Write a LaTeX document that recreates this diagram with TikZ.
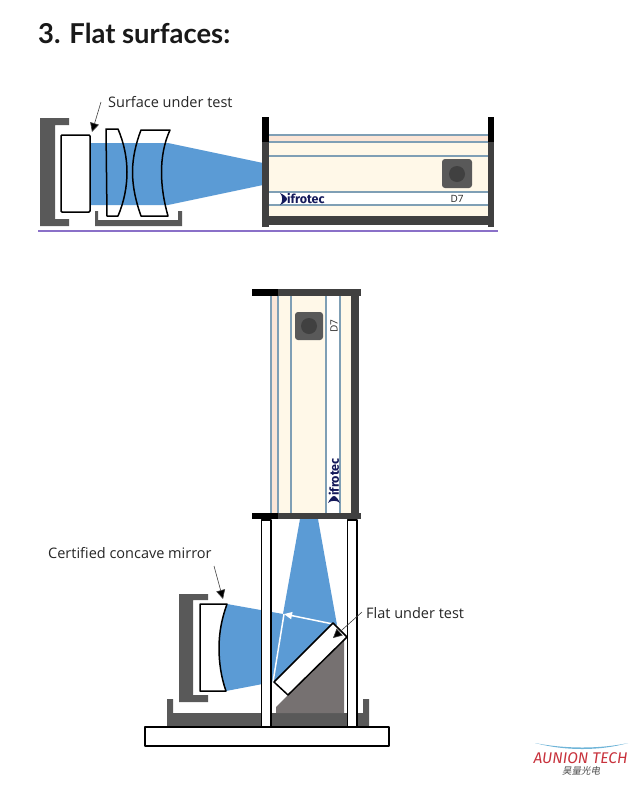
\documentclass[tikz,border=0pt]{standalone}
\usepackage{fontspec}
\setmainfont{Open Sans}
\newfontfamily\titlefont{Lato}
\newfontfamily\cjkfont[FakeSlant=0.2]{Noto Sans CJK SC}
\newfontfamily\logofont{Fira Sans}
\usetikzlibrary{arrows.meta}
\definecolor{frame}{HTML}{404040}
\definecolor{holder}{HTML}{595959}
\definecolor{beam}{HTML}{5B9BD5}
\definecolor{cream}{HTML}{FFF8E8}
\definecolor{peach}{HTML}{FBE5D6}
\definecolor{rule}{HTML}{7F9FB5}
\definecolor{wedge}{HTML}{767171}
\definecolor{navy}{HTML}{14195A}
\definecolor{purple1}{HTML}{8A70C8}
\definecolor{camcirc}{HTML}{404040}
\definecolor{logored}{HTML}{C8323C}
\definecolor{logoblue}{HTML}{6FB5D8}
\tikzset{
  x=1pt,y=-1pt,
  optic/.style={draw=black,line width=1.5pt,fill=white,line join=round},
  lensline/.style={draw=black,line width=1.5pt,line join=round},
  holderfill/.style={fill=holder,draw=none},
  framefill/.style={fill=frame,draw=none},
  ruleline/.style={draw=rule,line width=1.1pt},
  label/.style={font=\fontsize{14.5}{16}\selectfont,inner sep=0pt,text=black!85},
  callout/.style={draw=black!75,line width=0.6pt,-{Triangle[length=9pt,width=9pt,fill=black]}},
  raywhite/.style={draw=white,line width=1.5pt},
  brand/.style={font=\logofont\bfseries\fontsize{12.5}{13}\selectfont,text=navy,inner sep=0pt},
  small/.style={font=\fontsize{10}{10}\selectfont,inner sep=0pt,text=black!85}
}
\begin{document}
\begin{tikzpicture}
\useasboundingbox (0,0) rectangle (641,785);
\fill[white] (0,0) rectangle (641,785);
\node[anchor=west,inner sep=0pt,font=\titlefont\bfseries\fontsize{27.4}{28}\selectfont,text=black!90] (title) at (38,33) {3. Flat surfaces:};

% ---- top set-up: optics
\fill[holderfill] (40,118) -- (69,118) -- (69,125) -- (55,125) -- (55,219) -- (69,219) -- (69,226) -- (40,226) -- cycle;
\fill[holderfill] (95,211) -- (98,211) -- (98,220) -- (178,220) -- (178,211) -- (182,211) -- (182,226) -- (95,226) -- cycle;
\fill[beam] (90,143) -- (168,143) -- (263,163) -- (263,185) -- (168,205) -- (90,205) -- cycle;
\draw[optic,rounded corners=1pt] (61,135) rectangle (90,212);
\draw[lensline] (106,129) -- (118,129) .. controls (124,143) and (127,158) .. (127,172) .. controls (127,187) and (124,202) .. (118,216) -- (107,216) -- cycle;
\draw[lensline] (141,130) -- (170,130) .. controls (164,143) and (161.5,158) .. (161.5,172) .. controls (161.5,187) and (164,202) .. (168,216) -- (141,216) .. controls (136,202) and (132.5,187) .. (132.5,172) .. controls (132.5,158) and (136,143) .. (141,130) -- cycle;
\coordinate (surfTail) at (101,102);
\coordinate (surfTip) at (92,132);
\draw[callout] (surfTail) -- (surfTip);
\node[label,anchor=west] (surf) at (108,102) {Surface under test};

% ---- top set-up: interferometer
\fill[cream] (269,135) rectangle (488,216);
\fill[peach] (269,135) rectangle (488,142);
\fill[white] (269,192) rectangle (488,205);
\foreach \yy in {135,142,156,192,205} \draw[ruleline] (269,\yy) -- (488,\yy);
\fill[framefill] (262,216) rectangle (494,225);
\fill[framefill] (262,142) rectangle (269,227);
\fill[framefill] (488,142) rectangle (494,227);
\fill[black] (262,117) rectangle (269,142);
\fill[black] (488,117) rectangle (494,142);
\fill[holder,rounded corners=3pt] (442,159) rectangle (472,188);
\fill[camcirc] (457,174) circle (8);
\node[small] (d7a) at (457,199) {D7};
\fill[navy] (280,193) .. controls (284,195) and (287,197) .. (287,199) .. controls (287,201) and (284,203) .. (280,205) .. controls (283,202) and (283,196) .. (280,193) -- cycle;
\node[brand,anchor=west] (brandA) at (287,199) {ifrotec};

\draw[draw=purple1,line width=2pt] (38,230.5) -- (498,230.5);

% ---- lower set-up: interferometer
\fill[cream] (271,296) rectangle (351,513);
\fill[peach] (271,296) rectangle (278,513);
\fill[white] (326,296) rectangle (340,513);
\foreach \xx in {271,278,291,326,340} \draw[ruleline] (\xx,296) -- (\xx,513);
\fill[framefill] (351,289) rectangle (359,519);
\fill[framefill] (252,289) rectangle (361,296);
\fill[framefill] (252,513) rectangle (361,519);
\fill[black] (252,289) rectangle (278,296);
\fill[black] (252,513) rectangle (278,519);
\fill[holder,rounded corners=3pt] (295,312) rectangle (323,340);
\fill[camcirc] (309,326) circle (8);
\node[small,rotate=90] (d7b) at (334,326) {D7};
\fill[navy] (328,503) .. controls (330,499) and (332,496) .. (334,496) .. controls (336,496) and (338,499) .. (340,503) .. controls (337,500) and (331,500) .. (328,503) -- cycle;
\node[brand,rotate=90,anchor=west] (brandB) at (334,496) {ifrotec};

% ---- lower set-up: mounts and beam
\fill[holderfill] (167,699) -- (173,699) -- (173,713) -- (363,713) -- (363,699) -- (369,699) -- (369,727) -- (167,727) -- cycle;
\fill[holderfill] (179,594) -- (208,594) -- (208,600) -- (193,600) -- (193,695) -- (208,695) -- (208,702) -- (179,702) -- cycle;
\fill[wedge] (344,640) -- (344,713) -- (276,713) -- (276,707) -- (288,695) -- cycle;
\fill[beam] (300,519) -- (318,519) -- (337,625) -- (333,623) -- (274,682) -- (273,682) -- (226,691) .. controls (221,677) and (219,662) .. (219,648) .. controls (219,632) and (222,618) .. (227,604) -- (283,614) -- cycle;
\coordinate (rayLow) at (273,682);
\coordinate (rayMid) at (284,614);
\coordinate (rayHigh) at (333,624);
\draw[raywhite] (rayLow) -- (rayMid);
\draw[raywhite,-{Triangle[length=8pt,width=7pt,fill=white]}] (rayHigh) -- (rayMid);
\draw[optic] (200,604) -- (227,604) .. controls (222,618) and (219,632) .. (219,648) .. controls (219,662) and (221,677) .. (226,691) -- (200,691) -- cycle;
\draw[optic] (333,623) -- (347,637) -- (288,695) -- (274,682) -- cycle;
\draw[optic] (261.5,520) rectangle (271,727);
\draw[optic] (347.5,520) rectangle (357,727);
\draw[optic] (145,727) rectangle (389,746);
\coordinate (mirTail) at (214,566);
\coordinate (mirTip) at (223,599);
\draw[callout] (mirTail) -- (mirTip);
\coordinate (flatTail) at (362,612);
\coordinate (flatTip) at (333,638);
\draw[callout] (flatTail) -- (flatTip);
\node[label,anchor=west] (mir) at (48,553) {Certified concave mirror};
\node[label,anchor=west] (flat) at (366,613) {Flat under test};

% ---- logo
\fill[logoblue] (535,743) .. controls (565,749) and (600,749) .. (628,743) .. controls (600,751) and (565,751) .. (535,743) -- cycle;
\node[inner sep=0pt,text=logored,font=\logofont\itshape\fontsize{15.5}{15}\selectfont] (aunion) at (580.5,758) {AUNION TECH};
\node[inner sep=0pt,text=black!70,font=\cjkfont\fontsize{9.5}{9}\selectfont] (cn) at (581,771) {昊量光电};
\end{tikzpicture}
\end{document}
